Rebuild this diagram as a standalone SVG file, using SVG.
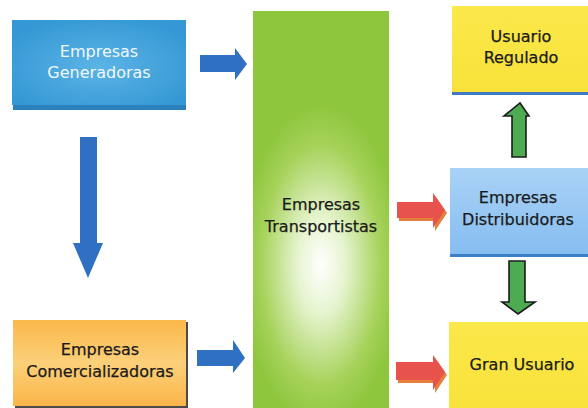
<svg xmlns="http://www.w3.org/2000/svg" width="588" height="408" viewBox="0 0 588 408">
  <defs>
    <radialGradient id="gBlue" cx="0.5" cy="0.55" r="0.6">
      <stop offset="0" stop-color="#5cb4e6"/>
      <stop offset="1" stop-color="#3598d4"/>
    </radialGradient>
    <linearGradient id="gLightBlue" x1="0" y1="0" x2="0" y2="1">
      <stop offset="0" stop-color="#a9d2f6"/>
      <stop offset="1" stop-color="#86bdf0"/>
    </linearGradient>
    <linearGradient id="gOrange" x1="0" y1="0" x2="0" y2="1">
      <stop offset="0" stop-color="#fbb84a"/>
      <stop offset="0.5" stop-color="#fcd07a"/>
      <stop offset="1" stop-color="#fbb548"/>
    </linearGradient>
    <radialGradient id="gGreen" cx="321" cy="265" r="160" fx="321" fy="265" gradientUnits="userSpaceOnUse" gradientTransform="translate(321 265) scale(0.5 1) translate(-321 -265)">
      <stop offset="0" stop-color="#ffffff"/>
      <stop offset="0.3" stop-color="#e6f4cf"/>
      <stop offset="0.75" stop-color="#a6d25a"/>
      <stop offset="1" stop-color="#8ec63e"/>
    </radialGradient>
    <linearGradient id="gYellow" x1="0" y1="0" x2="0" y2="1">
      <stop offset="0" stop-color="#fbe84a"/>
      <stop offset="1" stop-color="#f8e23a"/>
    </linearGradient>
    <style>
      .lbl { font-family: "DejaVu Sans", "Noto Sans", sans-serif; font-size: 16px; text-anchor: middle; }
      .dark { fill: #1a1a1a; stroke: #1a1a1a; stroke-width: 0.25; }
      .light { fill: #f2f8fc; }
      .blueArrow { fill: #2f70c2; }
      .redArrow { fill: #e8524c; }
      .redShade { fill: #e2803c; }
      .greenArrow { fill: #4dab52; stroke: #1c1c1c; stroke-width: 1.6; stroke-linejoin: miter; }
    </style>
  </defs>

  <rect width="588" height="408" fill="#ffffff"/>

  <!-- Nodes -->
  <g id="generadoras">
    <rect x="13" y="24" width="173" height="86" fill="#2b80bd"/>
    <rect x="12" y="20" width="174" height="85" fill="url(#gBlue)"/>
    <text class="lbl light" x="99" y="57">Empresas</text>
    <text class="lbl light" x="99" y="78">Generadoras</text>
  </g>

  <g id="comercializadoras">
    <rect x="15" y="322" width="173" height="87" fill="#4a4a4a"/>
    <rect x="13" y="320" width="173" height="86" fill="url(#gOrange)"/>
    <text class="lbl dark" x="100" y="355">Empresas</text>
    <text class="lbl dark" x="100" y="377">Comercializadoras</text>
  </g>

  <g id="transportistas">
    <rect x="253" y="11" width="136" height="397" fill="url(#gGreen)"/>
    <text class="lbl dark" x="321" y="210">Empresas</text>
    <text class="lbl dark" x="321" y="232">Transportistas</text>
  </g>

  <g id="usuario-regulado">
    <rect x="452" y="6" width="136" height="89" fill="#3f79c4"/>
    <rect x="452" y="6" width="136" height="86" fill="url(#gYellow)"/>
    <text class="lbl dark" x="521" y="42">Usuario</text>
    <text class="lbl dark" x="521" y="63">Regulado</text>
  </g>

  <g id="distribuidoras">
    <rect x="450" y="168" width="138" height="89" fill="#3f7fc8"/>
    <rect x="450" y="168" width="138" height="86" fill="url(#gLightBlue)"/>
    <text class="lbl dark" x="518" y="203">Empresas</text>
    <text class="lbl dark" x="518" y="225">Distribuidoras</text>
  </g>

  <g id="gran-usuario">
    <rect x="449" y="322" width="139" height="86" fill="url(#gYellow)"/>
    <text class="lbl dark" x="522" y="370">Gran Usuario</text>
  </g>

  <!-- Connectors -->
  <g id="connectors">
    <!-- generadoras to transportistas -->
    <path class="blueArrow" d="M200 55 H235 V48 L247 64 L235 80 V72 H200 Z"/>
    <!-- generadoras to comercializadoras -->
    <path class="blueArrow" d="M80 137 H97 V243 H103 L88 278 L73 243 H80 Z"/>
    <!-- comercializadoras to transportistas -->
    <path class="blueArrow" d="M197 350 H233 V340 L245 358 L233 373 V366 H197 Z"/>

    <!-- transportistas to distribuidoras -->
    <path class="redShade" d="M399 205 H435 V196 L447 213 L435 231 V221 H399 Z"/>
    <path class="redArrow" d="M397 202 H433 V193 L445 210 L433 228 V218 H397 Z"/>
    <!-- transportistas to gran usuario -->
    <path class="redShade" d="M398 365 H435 V358 L447 375 L435 393 V383 H398 Z"/>
    <path class="redArrow" d="M396 362 H433 V355 L445 372 L433 390 V380 H396 Z"/>

    <!-- distribuidoras to usuario regulado -->
    <path class="greenArrow" d="M512 157 V116 H504 L520 103 L529 116 H526 V157 Z"/>
    <!-- distribuidoras to gran usuario -->
    <path class="greenArrow" d="M509 261 H525 V302 H535 L518 314 L502 302 H509 Z"/>
  </g>
</svg>
